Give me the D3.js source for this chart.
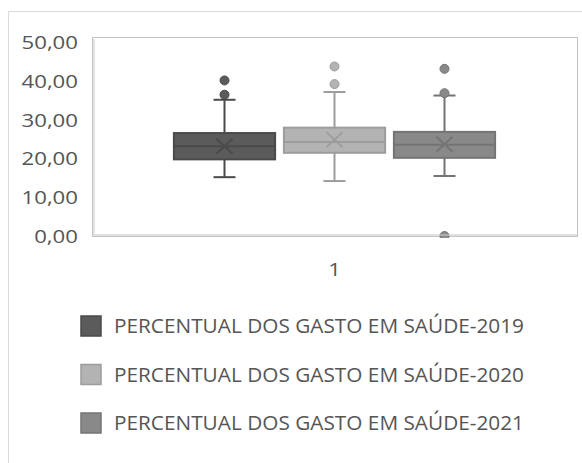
<!DOCTYPE html>
<html><head><meta charset="utf-8">
<script src="https://cdn.jsdelivr.net/npm/d3@7"></script>
<style>body{margin:0;background:#fff}svg{display:block}</style>
</head><body>
<script>
const categories = ["1"];
const seriesNames = ["PERCENTUAL DOS GASTO EM SAÚDE-2019","PERCENTUAL DOS GASTO EM SAÚDE-2020","PERCENTUAL DOS GASTO EM SAÚDE-2021"];
const whiskerLow  = [15.2, 14.2, 15.5];
const q1          = [19.8, 21.5, 20.2];
const median      = [23.2, 24.3, 23.6];
const q3          = [26.6, 28.0, 26.9];
const whiskerHigh = [35.2, 37.2, 36.3];
const mean        = [23.2, 24.9, 23.7];
const outliers    = [[36.5, 40.2], [39.25, 43.8], [36.9, 43.2, 0]];
const yTicks      = [0, 10, 20, 30, 40, 50];

const fills   = ["#5b5b5b", "#b3b3b3", "#898989"];
const strokes = ["#4a4a4a", "#9d9d9d", "#747474"];

const W = 582, H = 463;
const plot = {l: 92, t: 37, r: 577, b: 236};
const SX = 1.2;
const fmt = v => d3.format(".2f")(v).replace(".", ",");

const svg = d3.select("body").append("svg").attr("width", W).attr("height", H);

// outer chart frame
svg.append("rect").attr("x", 8.5).attr("y", 11.5).attr("width", 600).attr("height", 500)
  .attr("fill", "none").attr("stroke", "#d9d9d9").attr("stroke-width", 1);

const y = d3.scaleLinear().domain([0, 50]).range([236, 42.5]);
const x0 = d3.scaleBand().domain(categories).range([plot.l, plot.r]).paddingOuter(0.255).paddingInner(0);
const x1 = d3.scaleBand().domain(seriesNames).range([0, x0.bandwidth()]).paddingInner(0.08).paddingOuter(0);

// plot area frame
svg.append("rect").attr("x", plot.l + 0.5).attr("y", plot.t + 0.5)
  .attr("width", plot.r - plot.l).attr("height", plot.b - plot.t)
  .attr("fill", "#fff").attr("stroke", "#c4c4c4").attr("stroke-width", 1);
svg.append("line").attr("x1", plot.l + 2).attr("x2", plot.l + 2).attr("y1", plot.t + 2).attr("y2", plot.b - 1)
  .attr("stroke", "#e4e4e4").attr("stroke-width", 2);

// bottom axis line (under the marks)
svg.append("line").attr("x1", plot.l + 1).attr("x2", plot.r).attr("y1", plot.b - 1).attr("y2", plot.b - 1)
  .attr("stroke", "#dedede").attr("stroke-width", 2);
svg.append("line").attr("x1", plot.l).attr("x2", plot.r + 1).attr("y1", plot.b + 0.5).attr("y2", plot.b + 0.5)
  .attr("stroke", "#c4c4c4").attr("stroke-width", 1);

// y tick labels
const yAxis = svg.append("g");
yTicks.forEach(v => {
  yAxis.append("text")
    .attr("transform", `translate(78,${y(v)}) scale(${SX},1)`)
    .attr("text-anchor", "end").attr("dy", "0.36em")
    .attr("font-family", "Open Sans").attr("font-size", 18.5).attr("fill", "#555")
    .text(fmt(v));
});

// x category label
categories.forEach(c => {
  svg.append("text")
    .attr("transform", `translate(${x0(c) + x0.bandwidth() / 2},${269}) scale(${SX},1)`)
    .attr("text-anchor", "middle").attr("dy", "0.36em")
    .attr("font-family", "Open Sans").attr("font-size", 18.5).attr("fill", "#555")
    .text(c);
});

svg.append("defs").append("clipPath").attr("id", "pc").append("rect")
  .attr("x", plot.l).attr("y", plot.t).attr("width", plot.r - plot.l).attr("height", plot.b - plot.t + 2);

const g = svg.append("g").attr("clip-path", "url(#pc)");
seriesNames.forEach((s, i) => {
  const bx = x0(categories[0]) + x1(s);
  const bw = x1.bandwidth();
  const cx = bx + bw / 2;
  const sg = g.append("g");
  const st = strokes[i];
  // whiskers
  sg.append("line").attr("x1", cx).attr("x2", cx).attr("y1", y(whiskerHigh[i])).attr("y2", y(q3[i]))
    .attr("stroke", st).attr("stroke-width", 2);
  sg.append("line").attr("x1", cx).attr("x2", cx).attr("y1", y(q1[i])).attr("y2", y(whiskerLow[i]))
    .attr("stroke", st).attr("stroke-width", 2);
  [whiskerHigh[i], whiskerLow[i]].forEach(v => {
    sg.append("line").attr("x1", cx - 11).attr("x2", cx + 11).attr("y1", y(v)).attr("y2", y(v))
      .attr("stroke", st).attr("stroke-width", 2);
  });
  // box
  sg.append("rect").attr("x", bx).attr("y", y(q3[i])).attr("width", bw).attr("height", y(q1[i]) - y(q3[i]))
    .attr("fill", fills[i]).attr("stroke", st).attr("stroke-width", 2);
  sg.append("line").attr("x1", bx).attr("x2", bx + bw).attr("y1", y(median[i])).attr("y2", y(median[i]))
    .attr("stroke", st).attr("stroke-width", 2);
  // mean marker
  const my = y(mean[i]);
  sg.append("path").attr("d", `M${cx - 8},${my - 7.5}L${cx + 8},${my + 7.5}M${cx - 8},${my + 7.5}L${cx + 8},${my - 7.5}`)
    .attr("stroke", st).attr("stroke-width", 2).attr("fill", "none");
  // outliers
  outliers[i].forEach(v => {
    sg.append("circle").attr("cx", cx).attr("cy", y(v)).attr("r", 4.5)
      .attr("fill", fills[i]).attr("stroke", st).attr("stroke-width", 1);
  });
});

// thin axis highlight over the marks
svg.append("line").attr("x1", plot.l + 1).attr("x2", plot.r).attr("y1", plot.b - 1).attr("y2", plot.b - 1)
  .attr("stroke", "#e6e6e6").attr("stroke-width", 1).attr("opacity", 0.8);

// legend
const legY = [326, 374.5, 423];
seriesNames.forEach((s, i) => {
  svg.append("rect").attr("x", 81).attr("y", legY[i] - 10).attr("width", 20).attr("height", 20)
    .attr("fill", fills[i]).attr("stroke", strokes[i]).attr("stroke-width", 1.5);
  svg.append("text").attr("x", 114).attr("y", legY[i]).attr("dy", "0.36em")
    .attr("font-family", "Open Sans").attr("font-size", 19.5).attr("fill", "#555")
    .attr("textLength", 410).attr("lengthAdjust", "spacingAndGlyphs")
    .text(s);
});
</script>
</body></html>
